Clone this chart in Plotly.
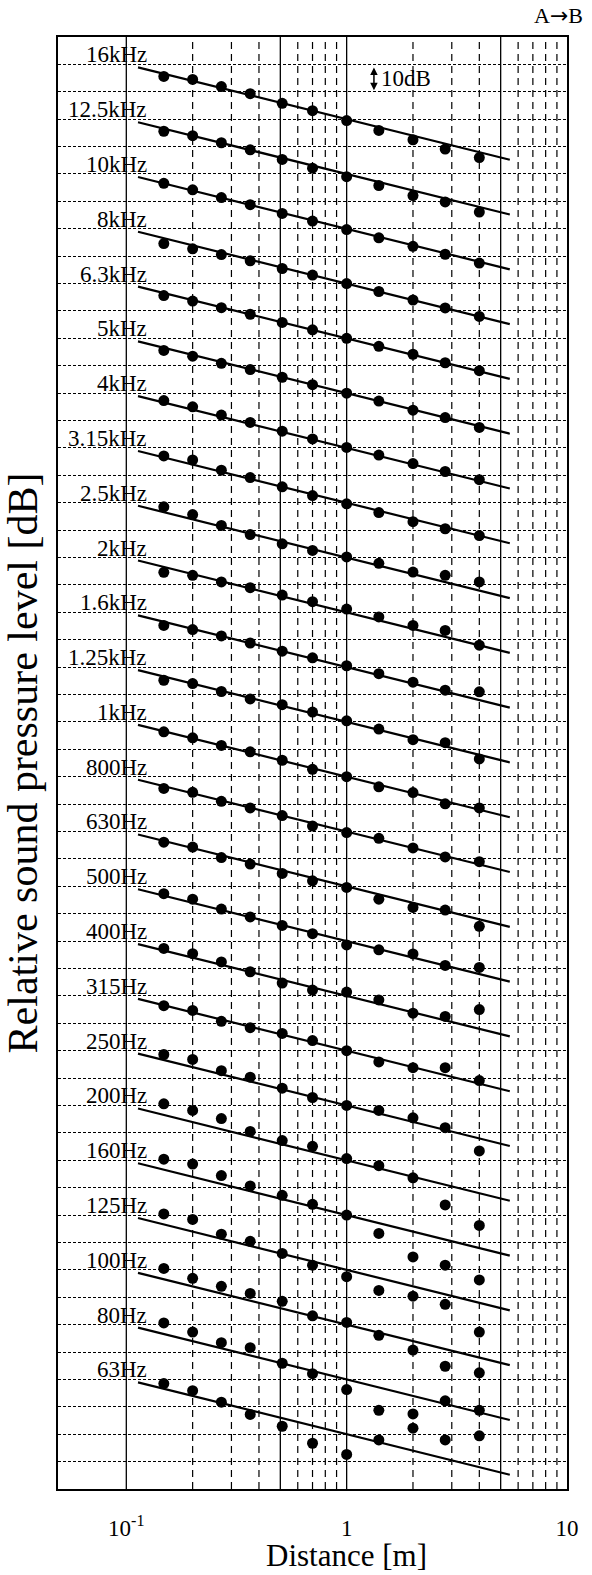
import math
import plotly.graph_objects as go

# Measurement distances from the source [m]
distance_m = [0.148, 0.2, 0.27, 0.365, 0.51, 0.7, 1.0, 1.4, 2.0, 2.8, 4.0]

# 1/3-octave bands, top row first
bands = ["16kHz", "12.5kHz", "10kHz", "8kHz", "6.3kHz", "5kHz", "4kHz",
         "3.15kHz", "2.5kHz", "2kHz", "1.6kHz", "1.25kHz", "1kHz", "800Hz",
         "630Hz", "500Hz", "400Hz", "315Hz", "250Hz", "200Hz", "160Hz",
         "125Hz", "100Hz", "80Hz", "63Hz"]

# Relative sound pressure level per band [dB re. level at 1 m]
spl_16k = [15.6, 14.5, 11.9, 9.3, 5.8, 3.1, -0.5, -4.1, -7.5, -10.9, -14.0]
spl_12k5 = [15.6, 14.0, 11.4, 8.8, 5.3, 2.1, -1.0, -4.2, -7.9, -10.2, -13.9]
spl_10k = [16.6, 14.2, 11.4, 8.8, 5.6, 2.8, -0.3, -3.3, -6.4, -9.3, -12.5]
spl_8k = [14.6, 12.7, 10.6, 8.3, 5.5, 3.1, 0.0, -2.9, -6.0, -8.9, -12.0]
spl_6k3 = [15.6, 13.6, 11.2, 8.8, 5.8, 3.1, 0.0, -2.9, -5.8, -8.9, -11.8]
spl_5k = [15.6, 13.5, 10.9, 8.6, 5.8, 3.1, 0.0, -2.9, -6.2, -8.9, -12.5]
spl_4k = [17.3, 15.0, 12.0, 9.3, 6.1, 3.3, 0.2, -2.6, -5.7, -8.6, -11.6]
spl_3k15 = [17.1, 15.6, 11.9, 9.2, 5.8, 2.6, -0.4, -3.6, -6.9, -9.5, -12.0]
spl_2k5 = [18.5, 15.7, 11.7, 8.4, 5.0, 2.6, 0.2, -2.1, -5.3, -6.5, -8.9]
spl_2k = [14.6, 13.5, 11.1, 9.0, 6.3, 3.9, 1.2, -1.7, -4.8, -6.6, -12.0]
spl_1k6 = [15.2, 13.7, 11.4, 8.8, 5.8, 3.4, 0.5, -2.4, -5.5, -8.4, -9.0]
spl_1k25 = [15.2, 14.0, 11.1, 8.4, 6.3, 3.6, 0.4, -2.6, -6.5, -7.6, -13.5]
spl_1k = [16.4, 14.2, 11.4, 9.1, 6.0, 2.7, 0.0, -3.7, -5.8, -9.9, -11.4]
spl_800 = [15.7, 14.3, 11.0, 8.6, 5.8, 2.0, -0.4, -2.5, -6.0, -9.3, -11.0]
spl_630 = [16.1, 14.3, 10.5, 8.1, 4.7, 2.0, -0.4, -4.7, -7.7, -8.7, -14.6]
spl_500 = [17.3, 15.3, 11.7, 8.8, 5.7, 2.7, -1.4, -3.2, -4.7, -8.9, -9.6]
spl_400 = [17.3, 15.4, 12.4, 8.8, 4.7, 2.1, 1.4, -1.5, -6.3, -7.5, -5.0]
spl_315 = [16.4, 14.7, 10.7, 8.4, 6.3, 3.7, 0.0, -4.1, -6.2, -6.2, -10.9]
spl_250 = [18.6, 16.8, 12.7, 10.3, 6.3, 2.9, 0.0, -1.8, -4.5, -8.1, -16.6]
spl_200 = [20.6, 18.2, 15.2, 10.5, 7.2, 5.1, 0.6, -2.0, -6.4, -16.3, -23.8]
spl_160 = [20.4, 18.6, 14.4, 10.6, 7.2, 3.9, 0.0, -6.7, -15.3, -18.3, -23.7]
spl_125 = [20.4, 18.4, 13.0, 10.4, 6.0, 1.7, -2.5, -7.5, -9.6, -12.6, -22.7]
spl_100 = [20.5, 16.9, 14.0, 11.4, 8.5, 3.2, 0.8, -3.9, -9.3, -15.2, -17.6]
spl_80 = [20.6, 17.3, 13.4, 11.6, 5.9, 2.1, -3.7, -11.3, -12.6, -7.8, -11.3]
spl_63 = [18.5, 15.9, 11.7, 7.2, 2.9, -3.3, -7.4, -2.1, 2.2, -2.1, -0.6]

band_levels = [spl_16k, spl_12k5, spl_10k, spl_8k, spl_6k3, spl_5k, spl_4k,
               spl_3k15, spl_2k5, spl_2k, spl_1k6, spl_1k25, spl_1k, spl_800,
               spl_630, spl_500, spl_400, spl_315, spl_250, spl_200, spl_160,
               spl_125, spl_100, spl_80, spl_63]

# Inverse-distance law reference line (-6 dB per doubling of distance)
ref_line_r = [0.113, 5.5]
ref_line_db = [18.9, -14.8]

# Tick labels of the distance axis
x_tick_vals = [0.1, 1, 10]
x_tick_text = ["10<sup>-1</sup>", "1", "10"]

# Vertical grid: solid and dashed positions [m]
grid_solid_x = [0.1, 0.5, 1, 5]
grid_dashed_x = [0.2, 0.3, 0.4, 0.6, 0.7, 0.8, 0.9, 2, 3, 4, 6, 7, 8, 9]

ROW_STEP = 20.0          # vertical spacing between bands [dB]
Y_TOP = 530.0
SERIF = "Liberation Serif, Times New Roman, serif"

fig = go.Figure()


def vlines(xs):
    gx, gy = [], []
    for v in xs:
        gx += [v, v, None]
        gy += [0, Y_TOP, None]
    return gx, gy


gx, gy = vlines(grid_solid_x)
fig.add_trace(go.Scatter(x=gx, y=gy, mode="lines", hoverinfo="skip",
                         line=dict(color="black", width=1.3)))
gx, gy = vlines(grid_dashed_x)
fig.add_trace(go.Scatter(x=gx, y=gy, mode="lines", hoverinfo="skip",
                         line=dict(color="black", width=1.2, dash="7px,5px")))

n = len(bands)
line_x, line_y, dot_x, dot_y = [], [], [], []
annotations = []
for k, (name, lv) in enumerate(zip(bands, band_levels)):
    offset = ROW_STEP + ROW_STEP * (n - 1 - k)
    line_x += ref_line_r + [None]
    line_y += [v + offset for v in ref_line_db] + [None]
    dot_x += distance_m
    dot_y += [v + offset for v in lv]
    annotations.append(dict(
        x=math.log10(0.127), y=offset + ROW_STEP, xref="x", yref="y",
        text=name, showarrow=False, xanchor="right", yanchor="bottom",
        yshift=-5, font=dict(family=SERIF, size=23, color="black")))

fig.add_trace(go.Scatter(x=line_x, y=line_y, mode="lines", hoverinfo="skip",
                         line=dict(color="black", width=2.2)))
fig.add_trace(go.Scatter(x=dot_x, y=dot_y, mode="markers",
                         marker=dict(color="black", size=11)))

# 10 dB scale bar
bar_x = math.log10(1.33)
annotations.append(dict(
    x=bar_x, y=510.6, ax=bar_x, ay=519.4, xref="x", yref="y",
    axref="x", ayref="y", text="", showarrow=True, arrowhead=2,
    startarrowhead=2, arrowside="end+start", arrowsize=1, arrowwidth=1.5,
    arrowcolor="black"))
annotations.append(dict(
    x=math.log10(1.40), y=515, xref="x", yref="y", text="10dB",
    showarrow=False, xanchor="left", yanchor="middle",
    font=dict(family=SERIF, size=23, color="black")))

# Direction of measurement
annotations.append(dict(
    x=1.036, y=1.015, xref="paper", yref="paper",
    text="A<span style='font-family:DejaVu Sans'>\u2192</span>B",
    showarrow=False, xanchor="right", yanchor="middle",
    font=dict(family=SERIF, size=22, color="black")))

# Distance axis title, centred under the 1 m tick
annotations.append(dict(
    x=0.0, y=-0.0455, xref="x", yref="paper", text="Distance [m]",
    showarrow=False, xanchor="center", yanchor="middle",
    font=dict(family=SERIF, size=31, color="black")))

fig.update_layout(
    width=592, height=1575,
    margin=dict(l=58, r=25, t=37, b=86),
    paper_bgcolor="white", plot_bgcolor="white",
    showlegend=False,
    annotations=annotations,
    font=dict(family=SERIF, color="black"),
)

fig.update_xaxes(
    type="log", range=[-1.31, 1.0],
    tickvals=x_tick_vals, ticktext=x_tick_text,
    tickfont=dict(family=SERIF, size=23, color="black"),
    ticks="", ticklabelstandoff=17,
    showgrid=False, zeroline=False,
    showline=True, linecolor="black", linewidth=2, mirror=True,
)

fig.update_yaxes(
    range=[0, Y_TOP], tick0=0, dtick=10,
    showticklabels=False, ticks="",
    showgrid=True, gridcolor="black", gridwidth=1, griddash="3px,2px",
    zeroline=False,
    showline=True, linecolor="black", linewidth=2, mirror=True,
    title=dict(text="Relative sound pressure level [dB]",
               font=dict(family=SERIF, size=42, color="black"), standoff=10),
)

fig.write_html("out.html")
